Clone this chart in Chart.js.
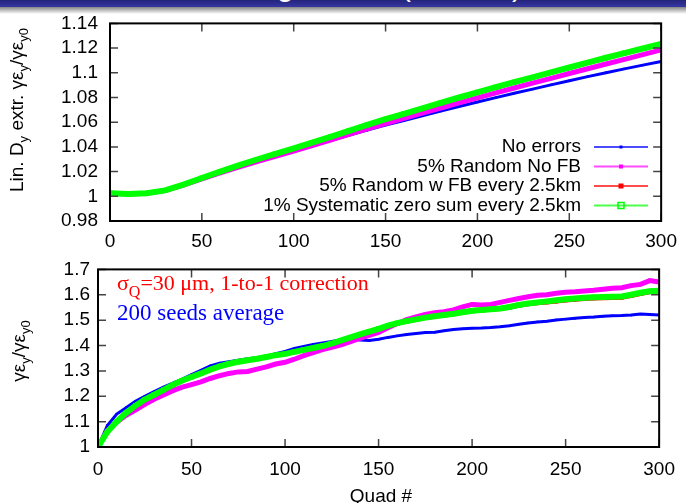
<!DOCTYPE html>
<html>
<head>
<meta charset="utf-8">
<script src="https://cdn.jsdelivr.net/npm/chart.js@4.4.0/dist/chart.umd.min.js"></script>
<style>
  body { margin: 0; background: #fff; }
  #wrap { position: relative; width: 686px; height: 503px; overflow: hidden; }
  #topPlot { position: absolute; left: 0; top: 0; }
  #bottomPlot { position: absolute; left: 0; top: 250px; }
  /* slide header strip above the plots */
  #banner { position: absolute; left: 0; top: 0; width: 686px; height: 7px; overflow: hidden; z-index: 2;
            background: linear-gradient(#24247c, #3636a2); }
  #banner span { position: absolute; top: -29px; color: #fff; font: 30px "Liberation Sans"; line-height: 30px; }
  #shade { position: absolute; left: 0; top: 7px; width: 686px; height: 7px; z-index: 2;
           background: linear-gradient(rgba(120,120,120,0.9), rgba(255,255,255,0)); }
</style>
</head>
<body>
<div id="wrap">
  <canvas id="topPlot" width="686" height="250"></canvas>
  <canvas id="bottomPlot" width="686" height="253"></canvas>
  <div id="banner"><span style="left:277px">g</span><span style="left:401px">(</span><span style="left:512px">)</span></div>
  <div id="shade"></div>
</div>
<script>
// series names + colours (gnuplot default-ish)
const seriesNames = ["No errors", "5% Random No FB", "5% Random w FB every 2.5km", "1% Systematic zero sum every 2.5km"];
const seriesColors = ["#0000ff", "#ff00ff", "#ff0000", "#00ff00"];

// upper panel: linear Dy extrapolation, every 10th quad
const quadsTop = [0, 10, 20, 30, 40, 50, 60, 70, 80, 90, 100, 110, 120, 130, 140, 150,
                  160, 170, 180, 190, 200, 210, 220, 230, 240, 250, 260, 270, 280, 290, 300];
const noErrTop = [1.0025, 1.0018, 1.0024, 1.0046, 1.0090, 1.0141, 1.0189, 1.0235, 1.0280, 1.0322, 1.0364,
                  1.0407, 1.0451, 1.0494, 1.0536, 1.0576, 1.0614, 1.0652, 1.0690, 1.0727, 1.0763,
                  1.0799, 1.0834, 1.0868, 1.0902, 1.0936, 1.0969, 1.1001, 1.1032, 1.1062, 1.1092];
const randNoFbTop = [1.0025, 1.0018, 1.0024, 1.0046, 1.0091, 1.0142, 1.0190, 1.0236, 1.0281, 1.0324, 1.0366,
                     1.0410, 1.0455, 1.0501, 1.0546, 1.0589, 1.0631, 1.0673, 1.0715, 1.0756, 1.0797,
                     1.0837, 1.0877, 1.0916, 1.0955, 1.0994, 1.1033, 1.1071, 1.1109, 1.1147, 1.1185];
const randFbTop = [1.0025, 1.0018, 1.0025, 1.0048, 1.0094, 1.0147, 1.0199, 1.0249, 1.0297, 1.0342, 1.0386,
                   1.0433, 1.0480, 1.0527, 1.0575, 1.0621, 1.0665, 1.0709, 1.0753, 1.0797, 1.0839,
                   1.0881, 1.0921, 1.0960, 1.1000, 1.1040, 1.1080, 1.1119, 1.1157, 1.1194, 1.1230];
const sysZeroTop = [1.0025, 1.0018, 1.0025, 1.0048, 1.0095, 1.0148, 1.0200, 1.0250, 1.0298, 1.0343, 1.0388,
                    1.0435, 1.0482, 1.0530, 1.0578, 1.0624, 1.0668, 1.0712, 1.0756, 1.0800, 1.0842,
                    1.0884, 1.0924, 1.0963, 1.1003, 1.1043, 1.1083, 1.1122, 1.1160, 1.1197, 1.1233];

// lower panel: 200 seeds average emittance growth, every 5th quad
const quadsBottom = [0, 5, 10, 15, 20, 25, 30, 35, 40, 45, 50, 55, 60, 65, 70, 75, 80, 85, 90, 95,
                     100, 105, 110, 115, 120, 125, 130, 135, 140, 145, 150, 155, 160, 165, 170, 175,
                     180, 185, 190, 195, 200, 205, 210, 215, 220, 225, 230, 235, 240, 245, 250, 255,
                     260, 265, 270, 275, 280, 285, 290, 295, 300];
const noErrBottom = [1.000, 1.085, 1.130, 1.155, 1.180, 1.200, 1.218, 1.236, 1.252, 1.268, 1.285, 1.302,
                     1.320, 1.330, 1.336, 1.342, 1.348, 1.352, 1.358, 1.368, 1.377, 1.388, 1.396, 1.404,
                     1.410, 1.416, 1.423, 1.427, 1.422, 1.420, 1.425, 1.432, 1.438, 1.443, 1.447, 1.451,
                     1.452, 1.458, 1.463, 1.466, 1.468, 1.469, 1.471, 1.474, 1.478, 1.484, 1.489, 1.493,
                     1.496, 1.501, 1.504, 1.507, 1.510, 1.512, 1.515, 1.517, 1.518, 1.520, 1.524, 1.522, 1.520];
const randNoFbBottom = [1.000, 1.065, 1.098, 1.125, 1.145, 1.168, 1.188, 1.205, 1.222, 1.236, 1.246, 1.257,
                        1.270, 1.281, 1.290, 1.296, 1.298, 1.307, 1.316, 1.327, 1.334, 1.346, 1.360, 1.372,
                        1.384, 1.393, 1.403, 1.415, 1.428, 1.440, 1.452, 1.470, 1.487, 1.502, 1.513, 1.522,
                        1.529, 1.533, 1.540, 1.552, 1.562, 1.560, 1.562, 1.570, 1.578, 1.585, 1.592, 1.598,
                        1.600, 1.606, 1.610, 1.612, 1.615, 1.618, 1.622, 1.626, 1.628, 1.636, 1.641, 1.656, 1.650];
const randFbBottom = [1.000, 1.058, 1.098, 1.133, 1.161, 1.185, 1.205, 1.224, 1.243, 1.260, 1.275, 1.289,
                      1.303, 1.316, 1.326, 1.334, 1.341, 1.347, 1.354, 1.361, 1.366, 1.374, 1.382, 1.389,
                      1.397, 1.407, 1.418, 1.430, 1.442, 1.453, 1.464, 1.476, 1.486, 1.494, 1.501, 1.508,
                      1.513, 1.518, 1.523, 1.529, 1.535, 1.538, 1.541, 1.544, 1.550, 1.557, 1.563, 1.567,
                      1.570, 1.573, 1.577, 1.580, 1.583, 1.585, 1.586, 1.587, 1.588, 1.595, 1.603, 1.610, 1.613];
const sysZeroBottom = [1.000, 1.060, 1.100, 1.135, 1.163, 1.187, 1.206, 1.225, 1.245, 1.262, 1.276, 1.290,
                       1.305, 1.318, 1.328, 1.336, 1.342, 1.348, 1.355, 1.362, 1.367, 1.375, 1.383, 1.390,
                       1.398, 1.408, 1.420, 1.432, 1.444, 1.455, 1.466, 1.478, 1.488, 1.496, 1.503, 1.510,
                       1.515, 1.520, 1.525, 1.531, 1.537, 1.540, 1.543, 1.546, 1.552, 1.560, 1.566, 1.570,
                       1.574, 1.578, 1.582, 1.585, 1.588, 1.590, 1.591, 1.592, 1.593, 1.600, 1.608, 1.614, 1.616];

Chart.defaults.font.family = "Liberation Sans";
Chart.defaults.color = "#000";

const pts = (xs, ys) => xs.map((q, i) => ({ x: q, y: ys[i] }));
const tickLabel = v => String(+v.toFixed(2));

// line widths / marker sizes: blue thin, green fat, like the gnuplot points
const widths = [3, 5, 4, 6];
const markers = [1.5, 2.5, 2.5, 3.5];
const drawOrder = [4, 3, 2, 1];

function makeSets(xs, series) {
  return series.map((ys, i) => ({
    label: seriesNames[i],
    data: pts(xs, ys),
    borderColor: seriesColors[i],
    backgroundColor: seriesColors[i],
    borderWidth: widths[i],
    pointStyle: "rect",
    pointRadius: markers[i],
    pointBorderWidth: 0,
    order: drawOrder[i]
  }));
}

// text with subscripts, parts = [{t, sub}]
function richWidth(ctx, parts, base, sub) {
  let w = 0;
  parts.forEach(p => { ctx.font = p.sub ? sub : base; w += ctx.measureText(p.t).width; });
  return w;
}
function drawRich(ctx, parts, x, y, base, sub, drop) {
  let cx = x;
  parts.forEach(p => {
    ctx.font = p.sub ? sub : base;
    ctx.fillText(p.t, cx, y + (p.sub ? drop : 0));
    cx += ctx.measureText(p.t).width;
  });
}
function drawRotated(ctx, parts, x, y) {
  const base = '19px "Liberation Sans"', sub = '13px "Liberation Sans"';
  ctx.save();
  ctx.translate(x, y);
  ctx.rotate(-Math.PI / 2);
  ctx.fillStyle = "#000";
  ctx.textBaseline = "alphabetic";
  ctx.textAlign = "left";
  const w = richWidth(ctx, parts, base, sub);
  drawRich(ctx, parts, -w / 2, 0, base, sub, 5);
  ctx.restore();
}

// gnuplot style border with inward (mirrored) tics
function frameAndTics(chart) {
  const { ctx, chartArea: a, scales: { x, y } } = chart;
  const len = 8;
  ctx.save();
  ctx.strokeStyle = "#444";
  ctx.lineWidth = 1.5;
  ctx.beginPath();
  x.ticks.forEach(t => {
    const px = x.getPixelForValue(t.value);
    ctx.moveTo(px, a.bottom); ctx.lineTo(px, a.bottom - len);
    ctx.moveTo(px, a.top); ctx.lineTo(px, a.top + len);
  });
  y.ticks.forEach(t => {
    const py = y.getPixelForValue(t.value);
    ctx.moveTo(a.left, py); ctx.lineTo(a.left + len, py);
    ctx.moveTo(a.right, py); ctx.lineTo(a.right - len, py);
  });
  ctx.stroke();
  ctx.strokeStyle = "#000";
  ctx.lineWidth = 2;
  ctx.strokeRect(a.left, a.top, a.right - a.left, a.bottom - a.top);
  ctx.restore();
}

const topDecor = {
  id: "topDecor",
  afterDraw(chart) {
    const ctx = chart.ctx;
    frameAndTics(chart);
    drawRotated(ctx, [{ t: "Lin. D" }, { t: "y", sub: 1 }, { t: " extr. γε" }, { t: "y", sub: 1 },
                      { t: "/γε" }, { t: "y0", sub: 1 }], 23, 110);
    // key, text right aligned, sample on the right
    const rows = [147, 166.5, 186, 205.5];
    const markSize = [3, 4, 5, 6];
    ctx.save();
    ctx.font = '19px "Liberation Sans"';
    ctx.textAlign = "right";
    ctx.textBaseline = "middle";
    rows.forEach((ry, i) => {
      ctx.fillStyle = "#000";
      ctx.fillText(seriesNames[i], 581, ry);
      ctx.globalAlpha = 0.7;
      ctx.strokeStyle = seriesColors[i];
      ctx.lineWidth = 2;
      ctx.beginPath(); ctx.moveTo(594, ry); ctx.lineTo(648, ry); ctx.stroke();
      ctx.globalAlpha = 1;
      const s = markSize[i];
      if (i === 3) {
        ctx.lineWidth = 1.5;
        ctx.strokeRect(621 - s / 2, ry - s / 2, s, s);
      } else {
        ctx.fillStyle = seriesColors[i];
        ctx.fillRect(621 - s / 2, ry - s / 2, s, s);
      }
    });
    ctx.restore();
  }
};

const bottomDecor = {
  id: "bottomDecor",
  afterDraw(chart) {
    const ctx = chart.ctx;
    frameAndTics(chart);
    drawRotated(ctx, [{ t: "γε" }, { t: "y", sub: 1 }, { t: "/γε" }, { t: "y0", sub: 1 }], 25, 101);
    ctx.save();
    ctx.textAlign = "left";
    ctx.textBaseline = "alphabetic";
    ctx.fillStyle = "#ff0000";
    drawRich(ctx, [{ t: "σ" }, { t: "Q", sub: 1 }, { t: "=30 μm, 1-to-1 correction" }], 117, 40,
             '22px "Liberation Serif"', '16px "Liberation Serif"', 7);
    ctx.fillStyle = "#0000ff";
    ctx.font = '23px "Liberation Serif"';
    ctx.fillText("200 seeds average", 117, 70);
    ctx.font = '19px "Liberation Sans"';
    ctx.fillStyle = "#000";
    ctx.textAlign = "center";
    ctx.fillText("Quad #", 381, 252);
    ctx.restore();
  }
};

function axes(yMin, yMax, yStep, yPad, yWidth, xPad, xHeight) {
  return {
    x: {
      type: "linear", min: 0, max: 300,
      grid: { display: false, drawTicks: false }, border: { display: false },
      ticks: { stepSize: 50, padding: xPad, font: { size: 19 }, maxRotation: 0, autoSkip: false },
      afterFit: s => { s.height = xHeight; }
    },
    y: {
      type: "linear", min: yMin, max: yMax,
      grid: { display: false, drawTicks: false }, border: { display: false },
      ticks: { stepSize: yStep, padding: yPad, font: { size: 19 }, autoSkip: false, callback: tickLabel },
      afterFit: s => { s.width = yWidth; }
    }
  };
}

new Chart("topPlot", {
  type: "line",
  data: { datasets: makeSets(quadsTop, [noErrTop, randNoFbTop, randFbTop, sysZeroTop]) },
  options: {
    responsive: false, animation: false,
    layout: { padding: { top: 14, right: 21, left: 0, bottom: 0 } },
    plugins: { legend: { display: false }, tooltip: { enabled: false } },
    scales: axes(0.98, 1.14, 0.02, 12, 110, 9, 29)
  },
  plugins: [topDecor]
});

new Chart("bottomPlot", {
  type: "line",
  data: { datasets: makeSets(quadsBottom, [noErrBottom, randNoFbBottom, randFbBottom, sysZeroBottom]) },
  options: {
    responsive: false, animation: false,
    layout: { padding: { top: 8, right: 21, left: 0, bottom: 0 } },
    plugins: { legend: { display: false }, tooltip: { enabled: false } },
    scales: axes(1, 1.7, 0.1, 8, 98, 11, 56)
  },
  plugins: [bottomDecor]
});
</script>
</body>
</html>
